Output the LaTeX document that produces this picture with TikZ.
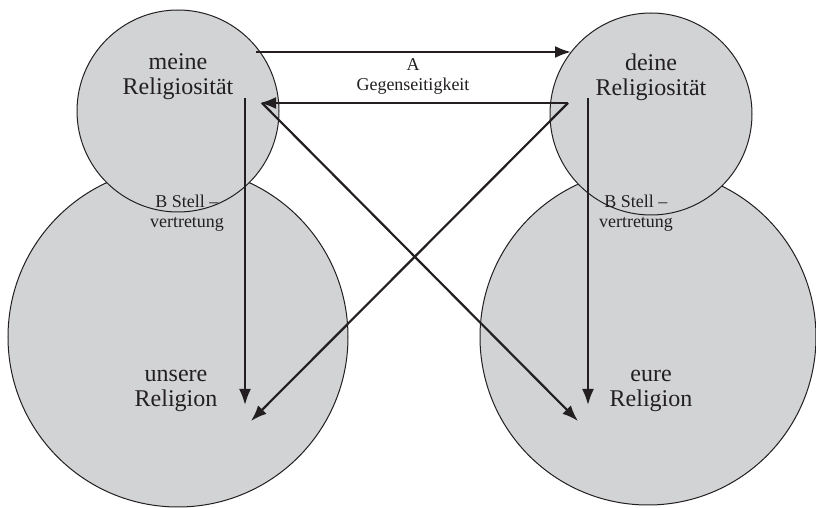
\documentclass[tikz,border=0pt]{standalone}
\usepackage{fontspec}
\setmainfont{Liberation Serif}
\usepackage{tikz}
\usetikzlibrary{arrows.meta}
\usepackage{xcolor}
\definecolor{blobgray}{RGB}{209,211,212}
\definecolor{inkgray}{RGB}{35,31,32}

\begin{document}
\begin{tikzpicture}[
  x=0.5pt, y=-0.5pt,
  blob/.style={fill=blobgray, draw=inkgray, line width=0.5pt},
  big/.style={align=center, text=inkgray, font=\fontsize{12}{12.5}\selectfont},
  small/.style={align=center, text=inkgray, font=\fontsize{9}{10}\selectfont},
  ar/.style={-{Latex[length=8pt, width=6pt]}, line width=1.1pt, draw=inkgray}
]
\clip (0,0) rectangle (816,508);
% Religionen (unten), Religiositaet (oben)
\draw[blob] (178,337) circle (170);
\draw[blob] (648,337) circle (168);
\draw[blob] (178,111) circle (101);
\draw[blob] (651,114) circle (101);

\node[big] (meine) at (178,77) {meine\\Religiosität};
\node[big] (deine) at (651,77) {deine\\Religiosität};
\node[big] (unsere) at (176,391) {unsere\\Religion};
\node[big] (eure) at (651,391) {eure\\Religion};
\node[small] (gegen) at (413,77) {A\\Gegenseitigkeit};
\node[small] (stellL) at (187,213) {B Stell --\\vertretung};
\node[small] (stellR) at (636,213) {B Stell --\\vertretung};

\coordinate (mOut) at (256,52);
\coordinate (dIn) at (571,52);
\coordinate (dOut) at (568,103);
\coordinate (mIn) at (260,103);
\coordinate (mX) at (262,103);
\coordinate (mDown) at (245,98);
\coordinate (uIn) at (245,405);
\coordinate (dDown) at (588,98);
\coordinate (eIn) at (588,405);
\coordinate (eX) at (578,421);
\coordinate (uX) at (251,421);

\draw[ar] (mOut) -- (dIn);
\draw[ar] (dOut) -- (mIn);
\draw[ar] (mDown) -- (uIn);
\draw[ar] (dDown) -- (eIn);
\draw[ar] (mX) -- (eX);
\draw[ar] (dOut) -- (uX);
\end{tikzpicture}
\end{document}
